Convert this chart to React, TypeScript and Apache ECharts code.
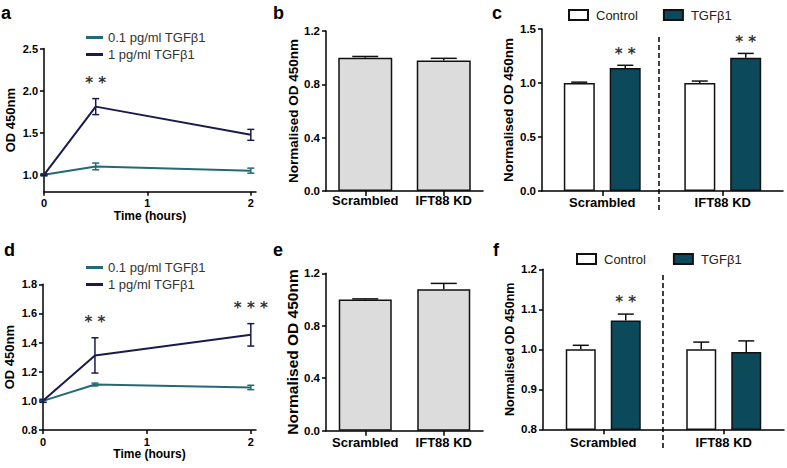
import React, { useEffect, useRef } from 'react';
import * as echarts from 'echarts';

// ---------- data ----------
const timeHours = [0, 0.5, 2];
const timeTicks = [0, 1, 2];
const aYTicks = [1.0, 1.5, 2.0, 2.5];

const lowDoseName = '0.1 pg/ml TGFβ1';
const highDoseName = '1 pg/ml TGFβ1';

const aLowMean = [1.0, 1.1, 1.05];
const aLowErr = [0.01, 0.04, 0.03];
const aHighMean = [1.0, 1.81, 1.475];
const aHighErr = [0.01, 0.095, 0.065];
const aHighStars = ['', '**', ''];

const dLowMean = [1.0, 1.112, 1.092];
const dLowErr = [0.01, 0.01, 0.015];
const dHighMean = [1.0, 1.312, 1.453];
const dHighErr = [0.01, 0.121, 0.077];
const dHighStars = ['', '**', '***'];

const groups = ['Scrambled', 'IFT88 KD'];

const bMean = [1.0, 0.978];
const bErr = [0.009, 0.017];
const eMean = [1.0, 1.078];
const eErr = [0.005, 0.045];

const cControlMean = [1.0, 1.0];
const cControlErr = [0.008, 0.018];
const cTgfMean = [1.139, 1.234];
const cTgfErr = [0.025, 0.04];
const cTgfStars = ['**', '**'];

const fControlMean = [1.0, 1.0];
const fControlErr = [0.01, 0.018];
const fTgfMean = [1.072, 0.993];
const fTgfErr = [0.016, 0.028];
const fTgfStars = ['**', ''];

// ---------- styles ----------
const FONT = '"Liberation Sans", Arial, Helvetica, sans-serif';
const TEAL = '#236a72';
const NAVY = '#1b1b4b';
const TGF_FILL = '#0c4a5b';
const GREY_FILL = '#dcdcdc';

const axisLine = { show: true, onZero: false, lineStyle: { color: '#000', width: 1.5 } };
const tickStyle = { color: '#000', width: 1.5 };

function errBars(
  xAxisIndex: number,
  yAxisIndex: number,
  xs: number[],
  means: number[],
  errs: number[],
  opts: { color: string; both: boolean; capHalf: number; offset: number; stars?: string[]; starGap: number }
) {
  return {
    type: 'custom',
    xAxisIndex,
    yAxisIndex,
    z: 10,
    silent: true,
    data: xs.map((x, i) => [x, means[i], errs[i]]),
    renderItem: (params: any, api: any) => {
      const x = api.value(0);
      const m = api.value(1);
      const e = api.value(2);
      const c = api.coord([x, m]);
      const cx = c[0] + opts.offset;
      const yTop = api.coord([x, m + e])[1];
      const yBot = opts.both ? api.coord([x, m - e])[1] : c[1];
      const ls = { stroke: opts.color, lineWidth: 1.5 };
      const children: any[] = [
        { type: 'line', shape: { x1: cx, y1: yTop, x2: cx, y2: yBot }, style: ls },
        { type: 'line', shape: { x1: cx - opts.capHalf, y1: yTop, x2: cx + opts.capHalf, y2: yTop }, style: ls },
      ];
      if (opts.both) {
        children.push({ type: 'line', shape: { x1: cx - opts.capHalf, y1: yBot, x2: cx + opts.capHalf, y2: yBot }, style: ls });
      }
      const star = opts.stars ? opts.stars[params.dataIndex] : '';
      if (star) {
        children.push({
          type: 'text',
          style: {
            text: star.split('').join(' '),
            x: cx,
            y: yTop - opts.starGap,
            align: 'center',
            verticalAlign: 'middle',
            fill: '#333',
            font: 'bold 15px "DejaVu Sans", sans-serif',
          },
        });
      }
      return { type: 'group', children };
    },
  };
}

function lineSeries(name: string, color: string, xi: number, means: number[]) {
  return {
    type: 'line',
    name,
    xAxisIndex: xi,
    yAxisIndex: xi,
    symbol: 'none',
    data: timeHours.map((t, i) => [t, means[i]]),
    lineStyle: { color, width: 2 },
    itemStyle: { color },
    z: 5,
  };
}

function timeXAxis(gridIndex: number, nameGap: number) {
  return {
    type: 'value',
    gridIndex,
    min: 0,
    max: 2.05,
    axisLine,
    axisTick: { show: true, length: 4, lineStyle: tickStyle, customValues: timeTicks },
    axisLabel: {
      customValues: timeTicks,
      color: '#000',
      fontWeight: 'bold',
      fontSize: 11,
      fontFamily: FONT,
      margin: 6,
      formatter: (v: number) => String(v),
    },
    splitLine: { show: false },
    name: 'Time (hours)',
    nameLocation: 'middle',
    nameGap,
    nameTextStyle: { color: '#000', fontWeight: 'bold', fontSize: 12, fontFamily: FONT },
  };
}

function catXAxis(gridIndex: number, margin: number) {
  return {
    type: 'category',
    gridIndex,
    data: groups,
    axisLine,
    axisTick: { show: true, length: 5, alignWithLabel: true, lineStyle: tickStyle },
    axisLabel: { color: '#000', fontWeight: 'bold', fontSize: 13, fontFamily: FONT, margin, interval: 0 },
    splitLine: { show: false },
  };
}

function valYAxis(
  gridIndex: number,
  min: number,
  max: number,
  interval: number | null,
  name: string,
  nameGap: number,
  nameSize: number,
  labelSize: number,
  custom?: number[]
) {
  const ax: any = {
    type: 'value',
    gridIndex,
    min,
    max,
    axisLine,
    axisTick: { show: true, length: 4, lineStyle: tickStyle },
    axisLabel: {
      color: '#000',
      fontWeight: 'bold',
      fontSize: labelSize,
      fontFamily: FONT,
      margin: 6,
      formatter: (v: number) => v.toFixed(1),
    },
    splitLine: { show: false },
    name,
    nameLocation: 'middle',
    nameGap,
    nameTextStyle: { color: '#000', fontWeight: 'bold', fontSize: nameSize, fontFamily: FONT },
  };
  if (interval !== null) ax.interval = interval;
  if (custom) {
    ax.axisTick.customValues = custom;
    ax.axisLabel.customValues = custom;
  }
  return ax;
}

function barSeries(name: string | undefined, xi: number, means: number[], fill: string, width: number, gap?: string) {
  const s: any = {
    type: 'bar',
    xAxisIndex: xi,
    yAxisIndex: xi,
    data: means,
    barWidth: width,
    itemStyle: { color: fill, borderColor: '#111', borderWidth: 1.5 },
    z: 3,
  };
  if (name) s.name = name;
  if (gap) s.barGap = gap;
  return s;
}

function letter(text: string, x: number, y: number) {
  return {
    type: 'text',
    x,
    y,
    style: { text, font: `bold 18px ${FONT}`, fill: '#000', verticalAlign: 'bottom' },
  };
}

function divider(x: number, y1: number, y2: number) {
  return {
    type: 'line',
    shape: { x1: x, y1, x2: x, y2 },
    style: { stroke: '#000', lineWidth: 1.5, lineDash: [5, 3] },
  };
}

export default function App() {
  const ref = useRef<HTMLDivElement>(null);

  useEffect(() => {
    if (!ref.current) return;
    const chart = echarts.init(ref.current, null, { renderer: 'svg' });

    const legendText = { color: '#333', fontSize: 13, fontFamily: FONT, lineHeight: 15 };
    const barLegendText = { color: '#222', fontSize: 13, fontFamily: FONT, lineHeight: 14, padding: [0, 0, 0, 3] };

    const option: any = {
      animation: false,
      backgroundColor: '#fff',
      textStyle: { fontFamily: FONT },
      grid: [
        { left: 44, top: 48.5, width: 212, height: 143.2 },
        { left: 326, top: 31, width: 157, height: 160 },
        { left: 542, top: 29, width: 241, height: 162 },
        { left: 43, top: 284.3, width: 213, height: 145.7 },
        { left: 326, top: 273.3, width: 157, height: 157.4 },
        { left: 543, top: 269.3, width: 241, height: 160 },
      ],
      xAxis: [
        timeXAxis(0, 14),
        catXAxis(1, 3),
        catXAxis(2, 5),
        timeXAxis(3, 17),
        catXAxis(4, 5),
        catXAxis(5, 7),
      ],
      yAxis: [
        valYAxis(0, 0.8, 2.5, null, 'OD 450nm', 27, 13, 11, aYTicks),
        valYAxis(1, 0, 1.2, 0.4, 'Normalised OD 450nm', 25, 13.5, 11.5),
        valYAxis(2, 0, 1.5, 0.5, 'Normalised OD 450nm', 27, 13.5, 11.5),
        valYAxis(3, 0.8, 1.8, 0.2, 'OD 450nm', 27, 13, 11),
        valYAxis(4, 0, 1.2, 0.4, 'Normalised OD 450nm', 18, 15.5, 11.5),
        valYAxis(5, 0.8, 1.2, 0.1, 'Normalised OD 450nm', 27, 12.5, 11.5),
      ],
      legend: [
        {
          orient: 'vertical', left: 81, top: 25, itemWidth: 17, itemHeight: 3, itemGap: 2, icon: 'rect',
          data: [lowDoseName, highDoseName], textStyle: legendText, selectedMode: false,
        },
        {
          orient: 'vertical', left: 81, top: 255, itemWidth: 17, itemHeight: 3, itemGap: 2, icon: 'rect',
          data: [lowDoseName, highDoseName], textStyle: legendText, selectedMode: false,
        },
        {
          orient: 'horizontal', left: 563, top: 3, itemWidth: 19, itemHeight: 10, itemGap: 25, icon: 'rect',
          data: ['Control', 'TGFβ1'], textStyle: barLegendText, selectedMode: false,
        },
        {
          orient: 'horizontal', left: 571, top: 247, itemWidth: 19, itemHeight: 10, itemGap: 27, icon: 'rect',
          data: ['Control', 'TGFβ1'], textStyle: barLegendText, selectedMode: false,
        },
      ],
      series: [
        // panel a
        lineSeries(lowDoseName, TEAL, 0, aLowMean),
        lineSeries(highDoseName, NAVY, 0, aHighMean),
        errBars(0, 0, timeHours, aLowMean, aLowErr, { color: TEAL, both: true, capHalf: 3.5, offset: 0, starGap: 0 }),
        errBars(0, 0, timeHours, aHighMean, aHighErr, { color: NAVY, both: true, capHalf: 3.5, offset: 0, stars: aHighStars, starGap: 16 }),
        // panel d
        lineSeries(lowDoseName, TEAL, 3, dLowMean),
        lineSeries(highDoseName, NAVY, 3, dHighMean),
        errBars(3, 3, timeHours, dLowMean, dLowErr, { color: TEAL, both: true, capHalf: 3.5, offset: 0, starGap: 0 }),
        errBars(3, 3, timeHours, dHighMean, dHighErr, { color: NAVY, both: true, capHalf: 3.5, offset: 0, stars: dHighStars, starGap: 16 }),
        // panel b
        barSeries(undefined, 1, bMean, GREY_FILL, 54),
        errBars(1, 1, [0, 1], bMean, bErr, { color: '#111', both: false, capHalf: 13, offset: 0, starGap: 0 }),
        // panel e
        barSeries(undefined, 4, eMean, GREY_FILL, 53),
        errBars(4, 4, [0, 1], eMean, eErr, { color: '#111', both: false, capHalf: 13, offset: 0, starGap: 0 }),
        // panel c
        barSeries('Control', 2, cControlMean, '#ffffff', 31, '48%'),
        barSeries('TGFβ1', 2, cTgfMean, TGF_FILL, 31, '48%'),
        errBars(2, 2, [0, 1], cControlMean, cControlErr, { color: '#111', both: false, capHalf: 8, offset: -23, starGap: 0 }),
        errBars(2, 2, [0, 1], cTgfMean, cTgfErr, { color: '#111', both: false, capHalf: 8, offset: 23, stars: cTgfStars, starGap: 11 }),
        // panel f
        barSeries('Control', 5, fControlMean, '#ffffff', 30, '50%'),
        barSeries('TGFβ1', 5, fTgfMean, TGF_FILL, 30, '50%'),
        errBars(5, 5, [0, 1], fControlMean, fControlErr, { color: '#111', both: false, capHalf: 8, offset: -22.5, starGap: 0 }),
        errBars(5, 5, [0, 1], fTgfMean, fTgfErr, { color: '#111', both: false, capHalf: 8, offset: 22.5, stars: fTgfStars, starGap: 12 }),
      ],
      graphic: [
        letter('a', 1, 22),
        letter('b', 273, 22),
        letter('c', 492, 22),
        letter('d', 4, 259),
        letter('e', 273, 259),
        letter('f', 493, 259),
        divider(659, 37, 210),
        divider(663, 275, 448),
      ],
    };

    chart.setOption(option);
    return () => chart.dispose();
  }, []);

  return (
    <div
      ref={ref}
      style={{ position: 'fixed', left: 0, top: 0, width: 787, height: 468, background: '#fff' }}
    />
  );
}
